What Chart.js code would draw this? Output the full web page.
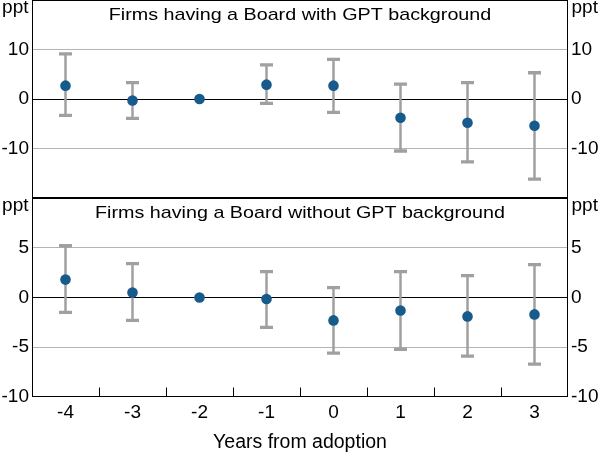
<!DOCTYPE html>
<html>
<head>
<meta charset="utf-8">
<script src="https://cdn.jsdelivr.net/npm/chart.js@4.4.1/dist/chart.umd.min.js"></script>
<style>
html,body{margin:0;padding:0;background:#fff;}
#wrap{position:relative;width:600px;height:457px;overflow:hidden;}
#c1{position:absolute;left:0;top:0;}
#c2{position:absolute;left:0;top:197px;}
</style>
</head>
<body>
<div id="wrap">
<canvas id="c1" width="600" height="199"></canvas>
<canvas id="c2" width="600" height="260"></canvas>
</div>
<script>
// ---- data ----
const years = ['-4', '-3', '-2', '-1', '0', '1', '2', '3'];

const withGptTitle = 'Firms having a Board with GPT background';
const withGptEst  = [2.7, -0.3, 0, 2.9, 2.7, -3.8, -4.8, -5.4];
const withGptLow  = [-3.3, -3.9, null, -0.9, -2.7, -10.5, -12.7, -16.2];
const withGptHigh = [9.1, 3.3, null, 6.9, 8.0, 3.0, 3.3, 5.3];

const withoutGptTitle = 'Firms having a Board without GPT background';
const withoutGptEst  = [1.8, 0.5, 0, -0.15, -2.3, -1.3, -1.9, -1.7];
const withoutGptLow  = [-1.5, -2.3, null, -3.0, -5.6, -5.2, -5.9, -6.7];
const withoutGptHigh = [5.2, 3.4, null, 2.6, 1.0, 2.6, 2.2, 3.3];

const topRange = [-20, 20];
const topTickValues = [-10, 0, 10];
const bottomRange = [-10, 10];
const bottomTickValues = [-10, -5, 0, 5];

const unitLabel = 'ppt';
const xAxisTitle = 'Years from adoption';

// ---- drawing ----
const FONT = "'Liberation Sans', Arial, Helvetica, sans-serif";
const DOT = '#175a8c';
const BAR = '#a0a0a0';
const GRID = '#b4b4b4';

function makePanel(canvasId, title, est, low, high, range, tickVals, isBottom) {
  const panelPlugin = {
    id: 'panel_' + canvasId,
    beforeDatasetsDraw(chart) {
      const ctx = chart.ctx;
      const x = chart.scales.x, y = chart.scales.y;
      ctx.save();
      ctx.strokeStyle = BAR;
      ctx.lineCap = 'butt';
      for (let i = 0; i < est.length; i++) {
        if (low[i] == null || high[i] == null) continue;
        const px = x.getPixelForValue(i);
        const yl = y.getPixelForValue(low[i]);
        const yh = y.getPixelForValue(high[i]);
        ctx.lineWidth = 2.5;
        ctx.beginPath();
        ctx.moveTo(px, yl); ctx.lineTo(px, yh);
        ctx.stroke();
        ctx.lineWidth = 3.3;
        ctx.beginPath();
        ctx.moveTo(px - 6.5, yl); ctx.lineTo(px + 6.5, yl);
        ctx.moveTo(px - 6.5, yh); ctx.lineTo(px + 6.5, yh);
        ctx.stroke();
      }
      ctx.restore();
    },
    afterDraw(chart) {
      const ctx = chart.ctx;
      const a = chart.chartArea;
      const x = chart.scales.x;
      ctx.save();
      // frame
      ctx.strokeStyle = '#000';
      ctx.lineWidth = 1;
      const l = Math.round(a.left) + 0.5, r = Math.round(a.right) - 0.5;
      const t = Math.round(a.top) + 0.5, b = Math.round(a.bottom) - 0.5;
      ctx.strokeRect(l, t, r - l, b - t);
      // inner x ticks (bottom panel only)
      if (isBottom) {
        ctx.beginPath();
        for (let i = 0; i < est.length - 1; i++) {
          const bx = Math.round((x.getPixelForValue(i) + x.getPixelForValue(i + 1)) / 2) + 0.5;
          ctx.moveTo(bx, b);
          ctx.lineTo(bx, b - 9);
        }
        ctx.stroke();
      }
      // panel title (slightly widened to match reference letter proportions)
      ctx.fillStyle = '#000';
      ctx.save();
      ctx.font = '17px ' + FONT;
      ctx.textAlign = 'center';
      ctx.textBaseline = 'alphabetic';
      ctx.translate((a.left + a.right) / 2, a.top + 20);
      ctx.scale(1.16, 1);
      ctx.fillText(title, 0, 0);
      ctx.restore();
      // unit labels
      ctx.font = '19px ' + FONT;
      ctx.textBaseline = 'alphabetic';
      ctx.textAlign = 'right';
      ctx.fillText(unitLabel, a.left - 3.5, a.top + 12.5);
      ctx.textAlign = 'left';
      ctx.fillText(unitLabel, a.right + 3.5, a.top + 12.5);
      ctx.restore();
    }
  };

  const yCommon = {
    type: 'linear',
    min: range[0],
    max: range[1],
    afterBuildTicks(s) { s.ticks = tickVals.map(v => ({ value: v })); },
    afterFit(s) { s.width = 32; s.paddingTop = 0; s.paddingBottom = 0; },
    border: { display: false },
    ticks: {
      color: '#000',
      padding: 3,
      font: { family: FONT, size: 19 },
      callback: v => String(v)
    }
  };

  return new Chart(document.getElementById(canvasId), {
    type: 'line',
    data: {
      labels: years,
      datasets: [{
        data: est,
        showLine: false,
        clip: false,
        pointRadius: 5.3,
        pointHoverRadius: 5.3,
        pointBackgroundColor: DOT,
        pointBorderColor: DOT,
        pointBorderWidth: 0,
        yAxisID: 'y'
      }]
    },
    options: {
      responsive: false,
      animation: false,
      devicePixelRatio: 1,
      layout: {
        autoPadding: false,
        padding: isBottom ? { top: 1, bottom: 0, left: 0, right: 0 } : { top: 0, bottom: 1, left: 0, right: 0 }
      },
      plugins: { legend: { display: false }, tooltip: { enabled: false }, title: { display: false } },
      scales: {
        x: {
          type: 'category',
          offset: true,
          display: isBottom,
          afterFit(s) { if (isBottom) { s.height = 60; } s.paddingLeft = 0; s.paddingRight = 0; },
          grid: { display: false, drawTicks: false },
          border: { display: false },
          ticks: { color: '#000', padding: 4, maxRotation: 0, autoSkip: false, font: { family: FONT, size: 19 } },
          title: {
            display: isBottom,
            text: xAxisTitle,
            color: '#000',
            font: { family: FONT, size: 19.5 },
            padding: { top: 0, bottom: 3 }
          }
        },
        y: Object.assign({}, yCommon, {
          position: 'left',
          grid: {
            drawTicks: false,
            lineWidth: 1,
            color: c => c.tick && c.tick.value === 0 ? '#000' : (c.tick && (c.tick.value === range[0] || c.tick.value === range[1]) ? 'rgba(0,0,0,0)' : GRID)
          }
        }),
        y2: Object.assign({}, yCommon, {
          position: 'right',
          grid: { display: false, drawTicks: false }
        })
      }
    },
    plugins: [panelPlugin]
  });
}

makePanel('c1', withGptTitle, withGptEst, withGptLow, withGptHigh, topRange, topTickValues, false);
makePanel('c2', withoutGptTitle, withoutGptEst, withoutGptLow, withoutGptHigh, bottomRange, bottomTickValues, true);
</script>
</body>
</html>
